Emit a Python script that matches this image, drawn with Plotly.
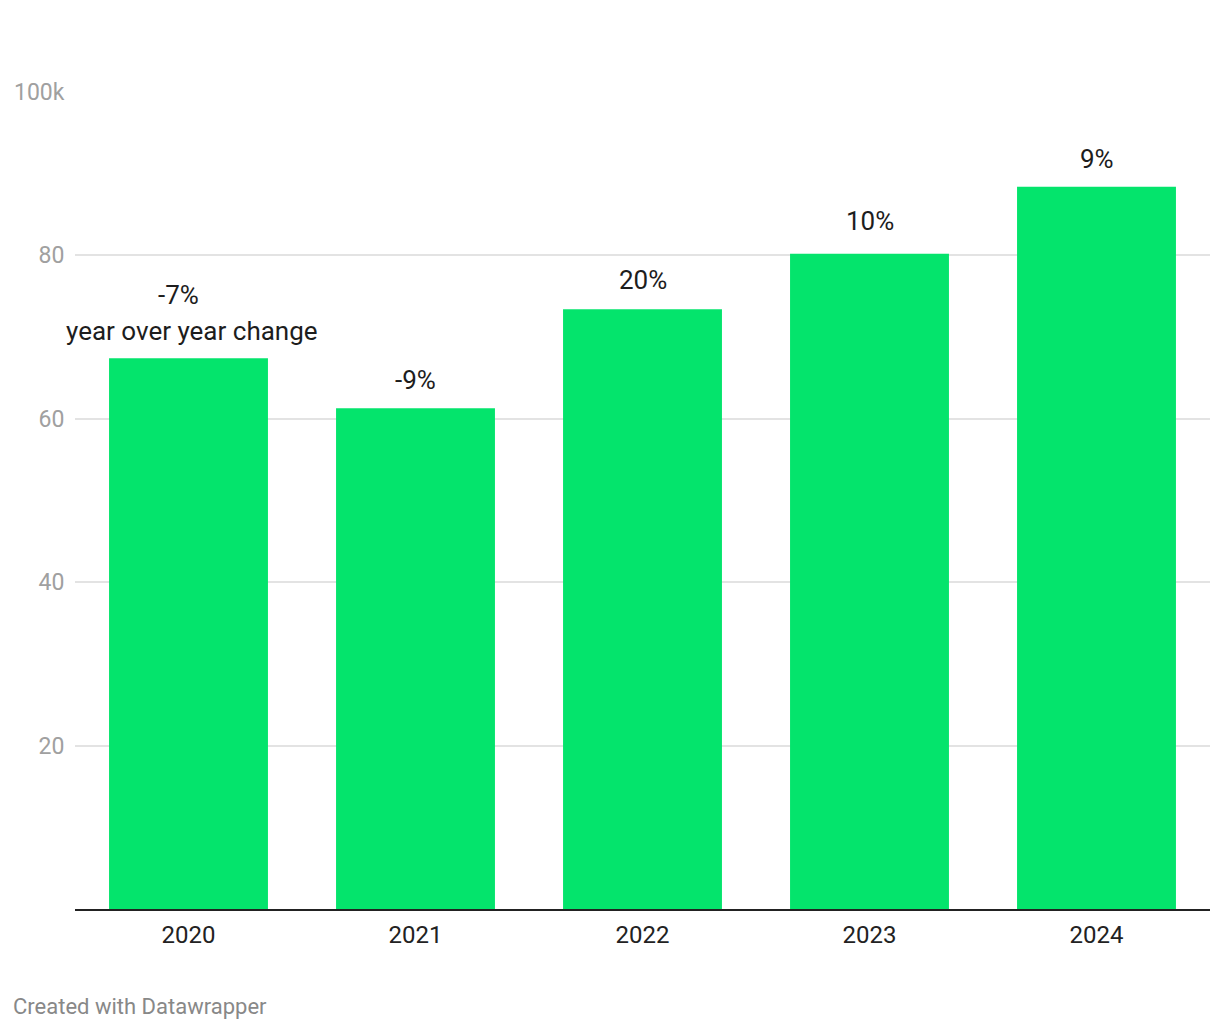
import plotly.graph_objects as go

# ---- data ----
years = ["2020", "2021", "2022", "2023", "2024"]
values = [67.4, 61.3, 73.4, 80.2, 88.4]          # thousands
changes = ["-7%", "-9%", "20%", "10%", "9%"]
note = "year over year change"
y_tickvals = [20, 40, 60, 80, 100]
y_ticktext = ["20", "40", "60", "80", "100k"]
footer = "Created with Datawrapper"

# ---- style ----
GREEN = "#04E46C"
TEXT = "#1d1d1d"
FONT = "Roboto"
label_shift = [63, 28, 29, 33, 28]   # px above bar top (label centre)

# page body has an 8px default margin -> compensate
OFF = 8
W, H = 1220 - 2 * OFF, 1030 - 2 * OFF
PL, PR, PT, PB = 75, 1210, 92, 909   # plot area in page pixels

fig = go.Figure()
fig.add_trace(go.Bar(
    x=years, y=values, width=0.7,
    marker=dict(color=GREEN, line=dict(width=0)),
    hoverinfo="skip", cliponaxis=False,
))

ann = []
for i, (v, c) in enumerate(zip(values, changes)):
    ann.append(dict(
        x=i, y=v, xref="x", yref="y", text=c, showarrow=False,
        yanchor="middle", xanchor="center", yshift=label_shift[i],
        xshift=-10 if i == 0 else 0,
        font=dict(family=FONT, size=26, color=TEXT),
    ))
ann.append(dict(
    x=0, y=values[0], xref="x", yref="y", text=note, showarrow=False,
    yanchor="middle", xanchor="center", yshift=27, xshift=3,
    font=dict(family=FONT, size=26, color=TEXT),
))
ann.append(dict(
    x=0, y=0, xref="paper", yref="paper", text=footer, showarrow=False,
    xanchor="left", yanchor="middle", xshift=11 - PL, yshift=-(1006 - PB),
    font=dict(family=FONT, size=22, color="#888888"),
))

fig.update_layout(
    width=W, height=H,
    margin=dict(l=PL - OFF, r=OFF + W - PR, t=PT - OFF, b=OFF + H - PB, pad=0),
    paper_bgcolor="white", plot_bgcolor="white",
    showlegend=False,
    font=dict(family=FONT),
    annotations=ann,
)
fig.update_xaxes(
    type="category", range=[-0.5, len(years) - 0.5],
    showline=True, linecolor="#222222", linewidth=2,
    showgrid=False, zeroline=False,
    ticks="outside", ticklen=0, ticklabelstandoff=3,
    tickfont=dict(family=FONT, size=24, color="#222222"),
    fixedrange=True,
)
fig.update_yaxes(
    range=[0, 100],
    tickvals=y_tickvals, ticktext=y_ticktext,
    showgrid=True, gridcolor="#e3e3e3", gridwidth=1.5,
    zeroline=False, showline=False,
    ticks="outside", ticklen=0, ticklabelstandoff=5,
    tickfont=dict(family=FONT, size=23, color="#a0a0a0"),
    fixedrange=True,
)

fig.write_html("out.html")
